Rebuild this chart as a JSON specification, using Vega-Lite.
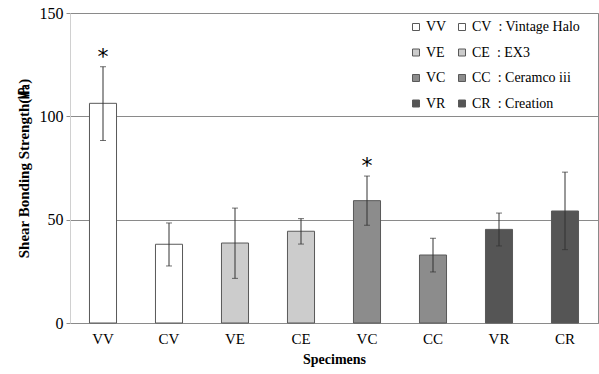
{
  "$schema": "https://vega.github.io/schema/vega-lite/v6.json",
  "width": 528,
  "height": 310,
  "autosize": {"type": "none"},
  "padding": {"left": 70, "top": 13, "right": 1, "bottom": 51},
  "background": "white",
  "config": {
    "view": {"stroke": "#8a8a8a", "strokeWidth": 1},
    "font": "Liberation Serif",
    "axis": {"labelFont": "Liberation Serif", "titleFont": "Liberation Serif", "labelColor": "#000", "titleColor": "#000"},
    "legend": {"labelFont": "Liberation Serif"}
  },
  "data": {
    "values": [
      {"specimen": "VV", "mean": 106.3, "lo": 88.3, "hi": 124.0, "sig": "*"},
      {"specimen": "CV", "mean": 38.1, "lo": 27.6, "hi": 48.4, "sig": ""},
      {"specimen": "VE", "mean": 38.7, "lo": 21.6, "hi": 55.6, "sig": ""},
      {"specimen": "CE", "mean": 44.4, "lo": 38.2, "hi": 50.5, "sig": ""},
      {"specimen": "VC", "mean": 59.2, "lo": 47.3, "hi": 71.1, "sig": "*"},
      {"specimen": "CC", "mean": 32.9, "lo": 24.7, "hi": 41.0, "sig": ""},
      {"specimen": "VR", "mean": 45.3, "lo": 37.3, "hi": 53.2, "sig": ""},
      {"specimen": "CR", "mean": 54.2, "lo": 35.5, "hi": 73.0, "sig": ""}
    ]
  },
  "encoding": {
    "x": {
      "field": "specimen", "type": "nominal",
      "sort": ["VV", "CV", "VE", "CE", "VC", "CC", "VR", "CR"],
      "scale": {"paddingInner": 0.59, "paddingOuter": 0.295},
      "axis": {
        "title": "Specimens", "titleFontSize": 14, "titleFontWeight": "bold", "titlePadding": 6,
        "labelFont": "Liberation Serif", "titleFont": "Liberation Serif",
        "labelAngle": 0, "labelFontSize": 15, "labelPadding": 8, "ticks": false,
        "domainColor": "#8a8a8a", "grid": false
      }
    }
  },
  "layer": [
    {
      "mark": {"type": "bar", "stroke": "#595959", "strokeWidth": 1},
      "encoding": {
        "y": {
          "field": "mean", "type": "quantitative",
          "scale": {"domain": [0, 150], "nice": false},
          "axis": {
            "title": "Shear Bonding Strength(㎫)", "titleFontSize": 15, "titleFontWeight": "bold", "titlePadding": 8,
            "labelFont": "Liberation Serif", "titleFont": "Liberation Serif",
            "values": [0, 50, 100, 150], "labelFontSize": 16, "labelPadding": 3,
            "tickSize": 4, "tickColor": "#8a8a8a", "domainColor": "#d0d0d0",
            "gridColor": "#8a8a8a", "gridWidth": 1
          }
        },
        "fill": {
          "field": "specimen", "type": "nominal",
          "scale": {
            "domain": ["VV", "CV", "VE", "CE", "VC", "CC", "VR", "CR"],
            "range": ["#ffffff", "#ffffff", "#cccccc", "#cccccc", "#8c8c8c", "#8c8c8c", "#555555", "#555555"]
          },
          "legend": {
            "title": null, "orient": "none", "direction": "horizontal", "legendX": 339, "legendY": 7, "columns": 2,
            "symbolType": "square", "symbolSize": 49, "symbolStrokeColor": "#595959", "symbolStrokeWidth": 1,
            "labelFont": "Liberation Serif", "labelFontSize": 14, "labelColor": "#000", "labelOffset": 3,
            "rowPadding": 11.5, "columnPadding": 8, "padding": 0,
            "labelExpr": "datum.label == 'CV' ? 'CV\u00a0\u00a0: Vintage Halo' : datum.label == 'CE' ? 'CE\u00a0\u00a0: EX3' : datum.label == 'CC' ? 'CC\u00a0\u00a0: Ceramco iii' : datum.label == 'CR' ? 'CR\u00a0\u00a0: Creation' : datum.label"
          }
        }
      }
    },
    {
      "mark": {"type": "rule", "color": "#333333", "strokeWidth": 1},
      "encoding": {
        "y": {"field": "lo", "type": "quantitative"},
        "y2": {"field": "hi"}
      }
    },
    {
      "mark": {"type": "tick", "color": "#333333", "thickness": 1, "size": 6},
      "encoding": {"y": {"field": "lo", "type": "quantitative"}}
    },
    {
      "mark": {"type": "tick", "color": "#333333", "thickness": 1, "size": 6},
      "encoding": {"y": {"field": "hi", "type": "quantitative"}}
    },
    {
      "mark": {"type": "text", "fontSize": 22, "dy": -10, "baseline": "middle", "font": "DejaVu Sans", "color": "#000"},
      "encoding": {
        "y": {"field": "hi", "type": "quantitative"},
        "text": {"field": "sig"}
      }
    }
  ]
}
